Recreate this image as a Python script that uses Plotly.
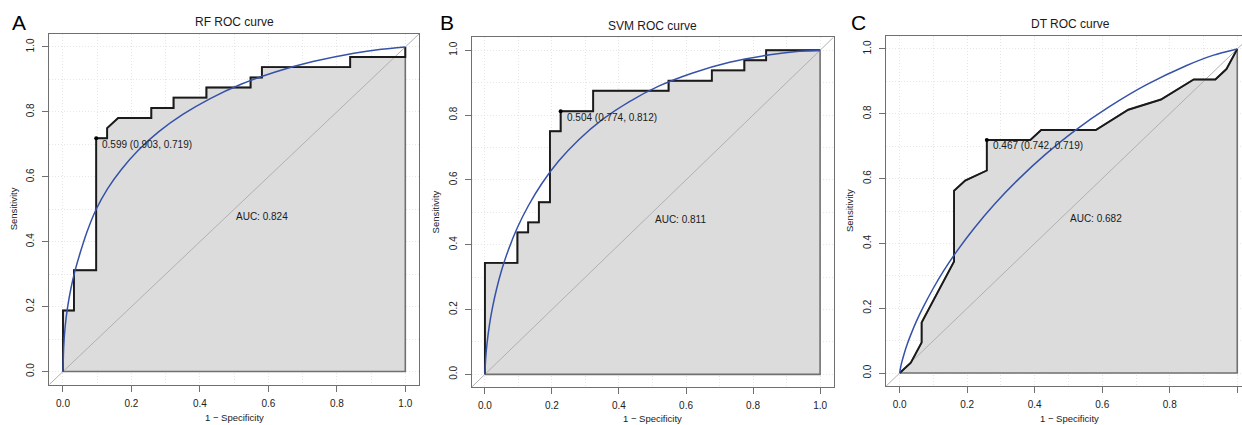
import plotly.graph_objects as go

# ---------------- data ----------------
panel_letters = ["A", "B", "C"]
panel_titles = ["RF ROC curve", "SVM ROC curve", "DT ROC curve"]
auc_labels = ["AUC: 0.824", "AUC: 0.811", "AUC: 0.682"]
thres_labels = ["0.599 (0.903, 0.719)", "0.504 (0.774, 0.812)", "0.467 (0.742, 0.719)"]

# empirical ROC (x = 1 - specificity, y = sensitivity)
rf_fpr = [0, 0, 0.032, 0.032, 0.097, 0.097, 0.129, 0.129, 0.161, 0.258, 0.258, 0.323, 0.323,
          0.419, 0.419, 0.548, 0.548, 0.581, 0.581, 0.839, 0.839, 1.0, 1.0]
rf_tpr = [0, 0.188, 0.188, 0.312, 0.312, 0.719, 0.719, 0.75, 0.781, 0.781, 0.812, 0.812, 0.844,
          0.844, 0.875, 0.875, 0.906, 0.906, 0.938, 0.938, 0.969, 0.969, 1.0]

svm_fpr = [0, 0, 0.097, 0.097, 0.129, 0.129, 0.161, 0.161, 0.194, 0.194, 0.226, 0.226, 0.323,
           0.323, 0.548, 0.548, 0.677, 0.677, 0.774, 0.774, 0.839, 0.839, 1.0]
svm_tpr = [0, 0.344, 0.344, 0.438, 0.438, 0.469, 0.469, 0.531, 0.531, 0.75, 0.75, 0.812, 0.812,
           0.875, 0.875, 0.906, 0.906, 0.938, 0.938, 0.969, 0.969, 1.0, 1.0]

dt_fpr = [0, 0.033, 0.065, 0.065, 0.161, 0.161, 0.194, 0.258, 0.258, 0.387, 0.419, 0.581,
          0.677, 0.774, 0.871, 0.935, 0.968, 1.0]
dt_tpr = [0, 0.032, 0.094, 0.156, 0.344, 0.5625, 0.594, 0.625, 0.719, 0.719, 0.75, 0.75,
          0.8125, 0.844, 0.906, 0.906, 0.938, 1.0]

# smoothed ROC curves (blue), points estimated along the drawn curve
smooth_fpr = [0, 0.002, 0.006, 0.013, 0.023, 0.035, 0.05, 0.07, 0.097, 0.13, 0.17, 0.22,
              0.28, 0.35, 0.43, 0.52, 0.62, 0.73, 0.85, 0.93, 1.0]
rf_smooth_tpr = [0, 0.075, 0.135, 0.195, 0.255, 0.31, 0.365, 0.43, 0.50, 0.563, 0.622, 0.682,
                 0.739, 0.792, 0.841, 0.885, 0.923, 0.955, 0.981, 0.993, 1.0]
svm_smooth_tpr = [0, 0.045, 0.092, 0.149, 0.208, 0.264, 0.322, 0.384, 0.453, 0.521, 0.589,
                  0.658, 0.724, 0.786, 0.841, 0.89, 0.93, 0.963, 0.986, 0.996, 1.0]
dt_smooth_tpr = [0, 0.014, 0.033, 0.059, 0.091, 0.124, 0.161, 0.204, 0.257, 0.315, 0.377,
                 0.446, 0.52, 0.596, 0.673, 0.749, 0.821, 0.889, 0.949, 0.981, 1.0]

# best-threshold points
thres_x = [0.097, 0.226, 0.258]
thres_y = [0.719, 0.812, 0.719]

tick_vals = [0, 0.2, 0.4, 0.6, 0.8, 1.0]
tick_text = ["0.0", "0.2", "0.4", "0.6", "0.8", "1.0"]
minor_vals = [0.1, 0.3, 0.5, 0.7, 0.9]

# ---------------- layout geometry ----------------
W, H = 1242, 425
FONT = "Liberation Sans, Arial, Helvetica, sans-serif"

panels = [
    dict(fpr=rf_fpr, tpr=rf_tpr, sy=rf_smooth_tpr,
         box=(49.3, 34.0, 419.0, 384.5), xr=[-0.04, 1.04], mirror_y=True,
         letter_xy=(19, 22.5), title_xy=(234, 22.3),
         ylab_xy=(13.3, 209), xlab_xy=(234.3, 417.5)),
    dict(fpr=svm_fpr, tpr=svm_tpr, sy=svm_smooth_tpr,
         box=(471.5, 37.3, 833.5, 387.3), xr=[-0.04, 1.04], mirror_y=True,
         letter_xy=(447, 23), title_xy=(652.7, 25.7),
         ylab_xy=(435.7, 211.7), xlab_xy=(652.7, 418)),
    dict(fpr=dt_fpr, tpr=dt_tpr, sy=dt_smooth_tpr,
         box=(886.2, 36.0, 1242.0, 386.0), xr=[-0.04, 1.014], mirror_y=False,
         letter_xy=(858, 22.5), title_xy=(1070.3, 24.3),
         ylab_xy=(849.3, 210.7), xlab_xy=(1069, 418)),
]

fig = go.Figure()
annotations = []
layout_axes = {}

for i, p in enumerate(panels):
    n = "" if i == 0 else str(i + 1)
    xa, ya = "x" + n, "y" + n
    l, t, r, b = p["box"]

    # AUC polygon
    fig.add_trace(go.Scatter(x=p["fpr"] + [1.0, 0.0], y=p["tpr"] + [0.0, 0.0],
                             mode="lines", fill="toself", fillcolor="#DCDCDC",
                             line=dict(color="#707070", width=1.6),
                             xaxis=xa, yaxis=ya, showlegend=False, hoverinfo="skip"))
    # diagonal reference line
    fig.add_trace(go.Scatter(x=[-0.05, 1.05], y=[-0.05, 1.05], mode="lines",
                             line=dict(color="#B0B0B0", width=1),
                             xaxis=xa, yaxis=ya, showlegend=False, hoverinfo="skip"))
    # empirical ROC
    fig.add_trace(go.Scatter(x=p["fpr"], y=p["tpr"], mode="lines",
                             line=dict(color="#1A1A1A", width=1.9),
                             xaxis=xa, yaxis=ya, showlegend=False))
    # smoothed ROC
    fig.add_trace(go.Scatter(x=smooth_fpr, y=p["sy"], mode="lines",
                             line=dict(color="#3652A8", width=1.5, shape="spline", smoothing=0.6),
                             xaxis=xa, yaxis=ya, showlegend=False))
    # threshold point
    fig.add_trace(go.Scatter(x=[thres_x[i]], y=[thres_y[i]], mode="markers",
                             marker=dict(color="black", size=4),
                             xaxis=xa, yaxis=ya, showlegend=False))

    axis_common = dict(
        showline=True, linecolor="#707070", linewidth=1,
        ticks="outside", ticklen=6, tickcolor="#707070", tickwidth=1,
        tickvals=tick_vals, ticktext=tick_text,
        tickfont=dict(family=FONT, size=10, color="#222222"),
        showgrid=True, gridcolor="#E6E6E6", griddash="1px,2px", gridwidth=1,
        minor=dict(tickvals=minor_vals, showgrid=True,
                   gridcolor="#E6E6E6", griddash="1px,2px", gridwidth=1, ticks=""),
        zeroline=False, fixedrange=True,
    )
    layout_axes["xaxis" + n] = dict(axis_common,
                                    domain=[l / W, r / W], range=p["xr"],
                                    anchor=ya, mirror=True, ticklabelstandoff=3)
    layout_axes["yaxis" + n] = dict(axis_common,
                                    domain=[(H - b) / H, (H - t) / H], range=[-0.04, 1.04],
                                    anchor=xa, mirror=p["mirror_y"], tickangle=-90,
                                    ticklabelstandoff=4)

    # texts
    annotations.append(dict(text=auc_labels[i], x=0.5, y=0.5, xref=xa, yref=ya,
                            xanchor="left", yanchor="top", showarrow=False,
                            font=dict(family=FONT, size=10, color="#1A1A1A")))
    annotations.append(dict(text=thres_labels[i], x=thres_x[i] + 0.012, y=thres_y[i] - 0.018,
                            xref=xa, yref=ya, xanchor="left", yanchor="middle",
                            showarrow=False,
                            font=dict(family=FONT, size=10, color="#1A1A1A")))
    lx, ly = p["letter_xy"]
    annotations.append(dict(text=panel_letters[i], x=lx / W, y=(H - ly) / H,
                            xref="paper", yref="paper", xanchor="center", yanchor="middle",
                            showarrow=False, font=dict(family=FONT, size=21, color="black")))
    tx, ty = p["title_xy"]
    annotations.append(dict(text=panel_titles[i], x=tx / W, y=(H - ty) / H,
                            xref="paper", yref="paper", xanchor="center", yanchor="middle",
                            showarrow=False, font=dict(family=FONT, size=12, color="#1A1A1A")))
    yx, yy = p["ylab_xy"]
    annotations.append(dict(text="Sensitivity", x=yx / W, y=(H - yy) / H, textangle=-90,
                            xref="paper", yref="paper", xanchor="center", yanchor="middle",
                            showarrow=False, font=dict(family=FONT, size=9.5, color="#1A1A1A")))
    xx, xy = p["xlab_xy"]
    annotations.append(dict(text="1 \u2212 Specificity", x=xx / W, y=(H - xy) / H,
                            xref="paper", yref="paper", xanchor="center", yanchor="middle",
                            showarrow=False, font=dict(family=FONT, size=9.5, color="#1A1A1A")))

fig.update_layout(
    width=W, height=H, margin=dict(l=0, r=0, t=0, b=0),
    paper_bgcolor="white", plot_bgcolor="white",
    annotations=annotations, showlegend=False,
    **layout_axes,
)

fig.write_html("out.html", config={"displayModeBar": False})
